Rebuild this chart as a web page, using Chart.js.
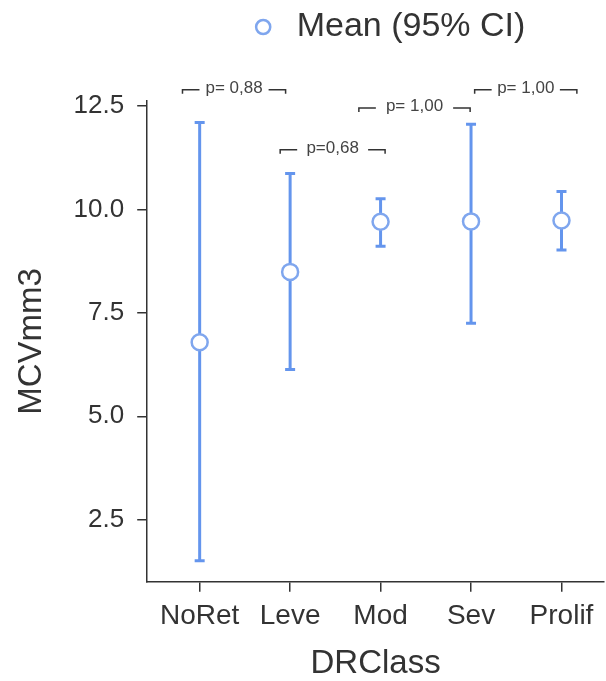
<!DOCTYPE html>
<html lang="en">
<head>
<meta charset="UTF-8">
<title>MCVmm3 by DRClass</title>
<style>
  html, body { margin: 0; padding: 0; background: #fff; }
  #wrap { width: 606px; height: 681px; }
</style>
</head>
<body>
<div id="wrap"><canvas id="myChart"></canvas></div>
<script src="https://cdn.jsdelivr.net/npm/chart.js"></script>
<script>
const categories = ['NoRet', 'Leve', 'Mod', 'Sev', 'Prolif'];
const means = [6.79, 8.49, 9.70, 9.71, 9.73];
const lowerCI = [1.51, 6.13, 9.11, 7.25, 9.02];
const upperCI = [12.10, 10.87, 10.26, 12.06, 10.43];
const yTicks = [2.5, 5.0, 7.5, 10.0, 12.5];

// p-values between neighbouring groups (bracket ends on the x scale, level on y)
const pLabels = ['p= 0,88', 'p=0,68', 'p= 1,00', 'p= 1,00'];
const pFrom = [0.81, 1.89, 2.76, 4.04];
const pTo = [1.95, 3.05, 3.99, 5.17];
const pLevel = [12.89, 11.44, 12.45, 12.89];

const blue = '#6495ed';
const ink = '#333';

Chart.defaults.font.family = '"Liberation Sans", Arial, sans-serif';
Chart.defaults.color = ink;

// whiskers: one segment per group, broken by a null point
const whiskers = [];
categories.forEach((c, i) => {
  whiskers.push({x: i + 1, y: lowerCI[i]}, {x: i + 1, y: upperCI[i]}, {x: i + 1, y: null});
});
const caps = [];
categories.forEach((c, i) => {
  caps.push({x: i + 1, y: lowerCI[i]}, {x: i + 1, y: upperCI[i]});
});

const legendSpacing = {
  id: 'legendSpacing',
  beforeInit(chart) {
    const fit = chart.legend.fit;
    chart.legend.fit = function () {
      fit.call(this);
      this.height += 47;
    };
  },
  afterLayout(chart) {
    chart.legend.left += 84;
    chart.legend.right += 84;
  }
};

const pValues = {
  id: 'pValues',
  afterDraw(chart) {
    const {ctx, scales: {x, y}} = chart;
    ctx.save();
    ctx.strokeStyle = ink;
    ctx.lineWidth = 1.5;
    ctx.fillStyle = '#444';
    ctx.font = '17px "Liberation Sans", Arial, sans-serif';
    ctx.textAlign = 'center';
    ctx.textBaseline = 'middle';
    pLabels.forEach((label, i) => {
      const x1 = x.getPixelForValue(pFrom[i]);
      const x2 = x.getPixelForValue(pTo[i]);
      const py = y.getPixelForValue(pLevel[i]);
      ctx.beginPath();
      ctx.moveTo(x1, py + 4);
      ctx.lineTo(x1, py);
      ctx.lineTo(x1 + 17, py);
      ctx.moveTo(x2 - 17, py);
      ctx.lineTo(x2, py);
      ctx.lineTo(x2, py + 4);
      ctx.stroke();
      ctx.fillText(label, (x1 + x2) / 2, py - 2);
    });
    ctx.restore();
  }
};

new Chart(document.getElementById('myChart'), {
  type: 'scatter',
  data: {
    datasets: [
      {
        label: 'Mean (95% CI)',
        data: means.map((m, i) => ({x: i + 1, y: m})),
        pointStyle: 'circle',
        pointRadius: 8,
        pointHoverRadius: 8,
        backgroundColor: '#fff',
        borderColor: '#7fa6ee',
        borderWidth: 2.5
      },
      {
        label: '',
        data: caps,
        pointStyle: 'line',
        pointRadius: 5,
        pointHoverRadius: 5,
        borderColor: blue,
        borderWidth: 3
      },
      {
        label: '',
        data: whiskers,
        showLine: true,
        spanGaps: false,
        pointRadius: 0,
        borderColor: blue,
        borderWidth: 3
      }
    ]
  },
  options: {
    responsive: true,
    maintainAspectRatio: false,
    animation: false,
    layout: { autoPadding: false, padding: { top: 0, left: 0, right: 2, bottom: 0 } },
    plugins: {
      tooltip: { enabled: false },
      legend: {
        position: 'top',
        labels: {
          filter: item => item.datasetIndex === 0,
          usePointStyle: true,
          boxWidth: 33,
          boxHeight: 10,
          font: { size: 34 },
          color: ink
        }
      }
    },
    scales: {
      x: {
        type: 'linear',
        min: 0.42,
        max: 5.47,
        afterBuildTicks: s => { s.ticks = categories.map((c, i) => ({value: i + 1})); },
        ticks: {
          callback: v => categories[v - 1] ?? '',
          autoSkip: false,
          maxRotation: 0,
          padding: 8,
          font: { size: 28 },
          color: ink
        },
        grid: { drawOnChartArea: false, tickLength: 10, color: ink, lineWidth: 1.5 },
        border: { color: ink, width: 1.5 },
        title: { display: true, text: 'DRClass', font: { size: 33 }, color: ink, padding: { top: 3, bottom: -3 } }
      },
      y: {
        min: 1.0,
        max: 12.62,
        afterBuildTicks: s => { s.ticks = yTicks.map(v => ({value: v})); },
        ticks: {
          callback: v => v.toFixed(1),
          padding: 13,
          font: { size: 26 },
          color: ink
        },
        grid: { drawOnChartArea: false, tickLength: 10, color: ink, lineWidth: 1.5 },
        border: { color: ink, width: 1.5 },
        title: { display: true, text: 'MCVmm3', font: { size: 33 }, color: ink, padding: { top: 12, bottom: 9 } }
      }
    }
  },
  plugins: [legendSpacing, pValues]
});
</script>
</body>
</html>
